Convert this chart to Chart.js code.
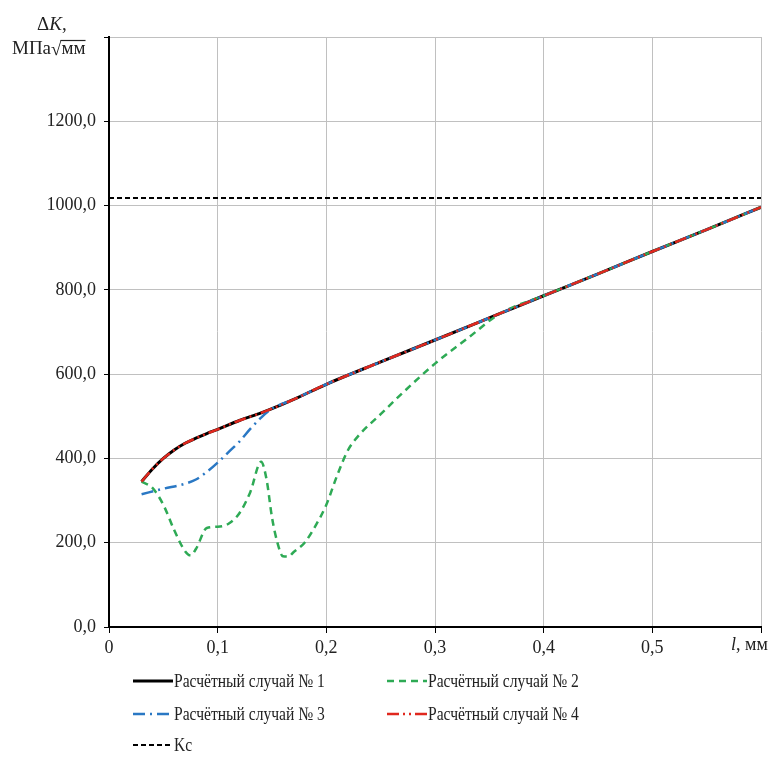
<!DOCTYPE html>
<html>
<head>
<meta charset="utf-8">
<script src="https://cdn.jsdelivr.net/npm/chart.js@4.4.1/dist/chart.umd.min.js"></script>
<style>
  html,body{margin:0;padding:0;background:#fff;}
  #wrap{width:782px;height:781px;position:relative;}
</style>
</head>
<body>
<div id="wrap"><canvas id="chart" width="782" height="781"></canvas></div>
<script>
/* ===== DATA ===== */
// Расчётный случай № 1 и № 4 (совпадают)
const case1X = [0.03,0.04,0.05,0.06,0.07,0.08,0.09,0.10,0.12,0.14,0.15,0.17,0.20,0.25,0.30,0.36,0.40,0.45,0.50,0.55,0.60];
const case1Y = [345,375,400,420,436,448,459,469,490,508,518,540,576,629,681,744,786,838,891,943,996];

// Расчётный случай № 2
const case2X = [0.03,0.04,0.05,0.06,0.07,0.075,0.08,0.09,0.10,0.11,0.12,0.13,0.14,0.145,0.15,0.155,0.16,0.165,0.17,0.18,0.19,0.20,0.21,0.22,0.23,0.25,0.27,0.30,0.33,0.36,0.40,0.45,0.50,0.55,0.60];
const case2Y = [345,330,290,230,180,170,185,235,238,245,270,320,392,350,260,200,168,167,178,200,240,290,360,420,455,505,555,625,685,744,786,838,891,943,996];

// Расчётный случай № 3
const case3X = [0.03,0.05,0.07,0.08,0.09,0.10,0.11,0.12,0.13,0.14,0.15,0.17,0.20,0.25,0.30,0.36,0.40,0.45,0.50,0.55,0.60];
const case3Y = [315,328,340,350,368,390,415,440,470,497,518,540,576,629,681,744,786,838,891,943,996];

// Kc
const kcX = [0,0.6];
const kcY = [1018,1018];

const xTicks = [0,0.1,0.2,0.3,0.4,0.5,0.6];
const yTicks = [0,200,400,600,800,1000,1200,1400];

const labels = ["Расчётный случай № 1","Расчётный случай № 2","Расчётный случай № 3","Расчётный случай № 4","Kc"];

const pts = (xs,ys)=>xs.map((x,i)=>({x:x,y:ys[i]}));
const FONT = "'Liberation Serif','Times New Roman',serif";

/* ===== CUSTOM TEXT + LEGEND ===== */
const extras = {
  id:"extras",
  afterDraw(chart){
    const c = chart.ctx;
    c.save();
    c.fillStyle = "#222";
    c.textBaseline = "alphabetic";
    // y title
    c.font = "19px "+FONT;
    c.textAlign = "left";
    c.fillText("Δ",37,30);
    const dw = c.measureText("Δ").width;
    c.font = "italic 19px "+FONT;
    c.fillText("K",37+dw,30);
    const kw = c.measureText("K").width;
    c.font = "19px "+FONT;
    c.fillText(",",37+dw+kw,30);
    // units
    c.fillText("МПа",12,54);
    let xx = 12 + c.measureText("МПа").width;
    c.fillText("√",xx,55);
    xx += c.measureText("√").width;
    const mw = c.measureText("мм").width;
    c.fillText("мм",xx,54);
    c.strokeStyle = "#222"; c.lineWidth = 1.2;
    c.beginPath(); c.moveTo(xx-1,40.5); c.lineTo(xx+mw,40.5); c.stroke();

    // x title
    c.font = "italic 18px "+FONT;
    c.fillText("l",731,650);
    const lw = c.measureText("l").width;
    c.font = "18px "+FONT;
    c.fillText(", мм",731+lw,650);

    // legend
    const items = [
      {ds:0,x:133,y:681},{ds:1,x:387,y:681},
      {ds:2,x:133,y:714},{ds:3,x:387,y:714},
      {ds:4,x:133,y:745}
    ];
    items.forEach(it=>{
      const d = chart.data.datasets[it.ds];
      c.save();
      c.strokeStyle = d.borderColor;
      c.lineWidth = d.borderWidth;
      c.setLineDash(d.borderDash||[]);
      c.beginPath(); c.moveTo(it.x,it.y); c.lineTo(it.x+40,it.y); c.stroke();
      c.restore();
      c.save();
      c.font = "19px "+FONT;
      c.fillStyle = "#222";
      c.textBaseline = "middle";
      c.translate(it.x+41,it.y+1);
      c.scale(0.82,1);
      c.fillText(d.label,0,0);
      c.restore();
    });
    c.restore();
  }
};

const chart = new Chart(document.getElementById("chart"),{
  type:"line",
  data:{
    datasets:[
      {label:labels[0],data:pts(case1X,case1Y),borderColor:"#000000",borderWidth:3,order:5},
      {label:labels[1],data:pts(case2X,case2Y),borderColor:"#2eaa55",borderWidth:2.5,borderDash:[7,5],order:4},
      {label:labels[2],data:pts(case3X,case3Y),borderColor:"#2a78c4",borderWidth:2.5,borderDash:[12,5,2,5],order:3},
      {label:labels[3],data:pts(case1X,case1Y),borderColor:"#e0281e",borderWidth:2.5,borderDash:[12,4,2,4,2,4],order:2},
      {label:labels[4],data:pts(kcX,kcY),borderColor:"#000000",borderWidth:2,borderDash:[5,3],order:1,cubicInterpolationMode:"default",tension:0}
    ]
  },
  options:{
    responsive:false,
    animation:false,
    elements:{
      point:{radius:0},
      line:{cubicInterpolationMode:"monotone",fill:false}
    },
    layout:{padding:{left:0,right:21,top:37,bottom:0}},
    plugins:{legend:{display:false},tooltip:{enabled:false}},
    scales:{
      x:{
        type:"linear",min:0,max:0.6,
        afterBuildTicks:s=>{s.ticks = xTicks.map(v=>({value:v}));},
        afterFit:s=>{s.height = 154;},
        grid:{color:"#c0c0c0",lineWidth:1,tickColor:"#000",tickLength:6},
        border:{color:"#000",width:2},
        ticks:{
          color:"#222",padding:4,maxRotation:0,
          font:{family:FONT,size:18},
          callback:v=> v===0 ? "0" : (v>=0.6 ? "" : v.toFixed(1).replace(".",","))
        }
      },
      y:{
        type:"linear",min:0,max:1400,
        afterBuildTicks:s=>{s.ticks = yTicks.map(v=>({value:v}));},
        afterFit:s=>{s.width = 109;},
        grid:{color:"#c0c0c0",lineWidth:1,tickColor:"#000",tickLength:5},
        border:{color:"#000",width:2},
        ticks:{
          color:"#222",padding:8,
          font:{family:FONT,size:18},
          callback:v=> v>=1400 ? "" : v.toFixed(1).replace(".",",")
        }
      }
    }
  },
  plugins:[extras]
});
</script>
</body>
</html>
